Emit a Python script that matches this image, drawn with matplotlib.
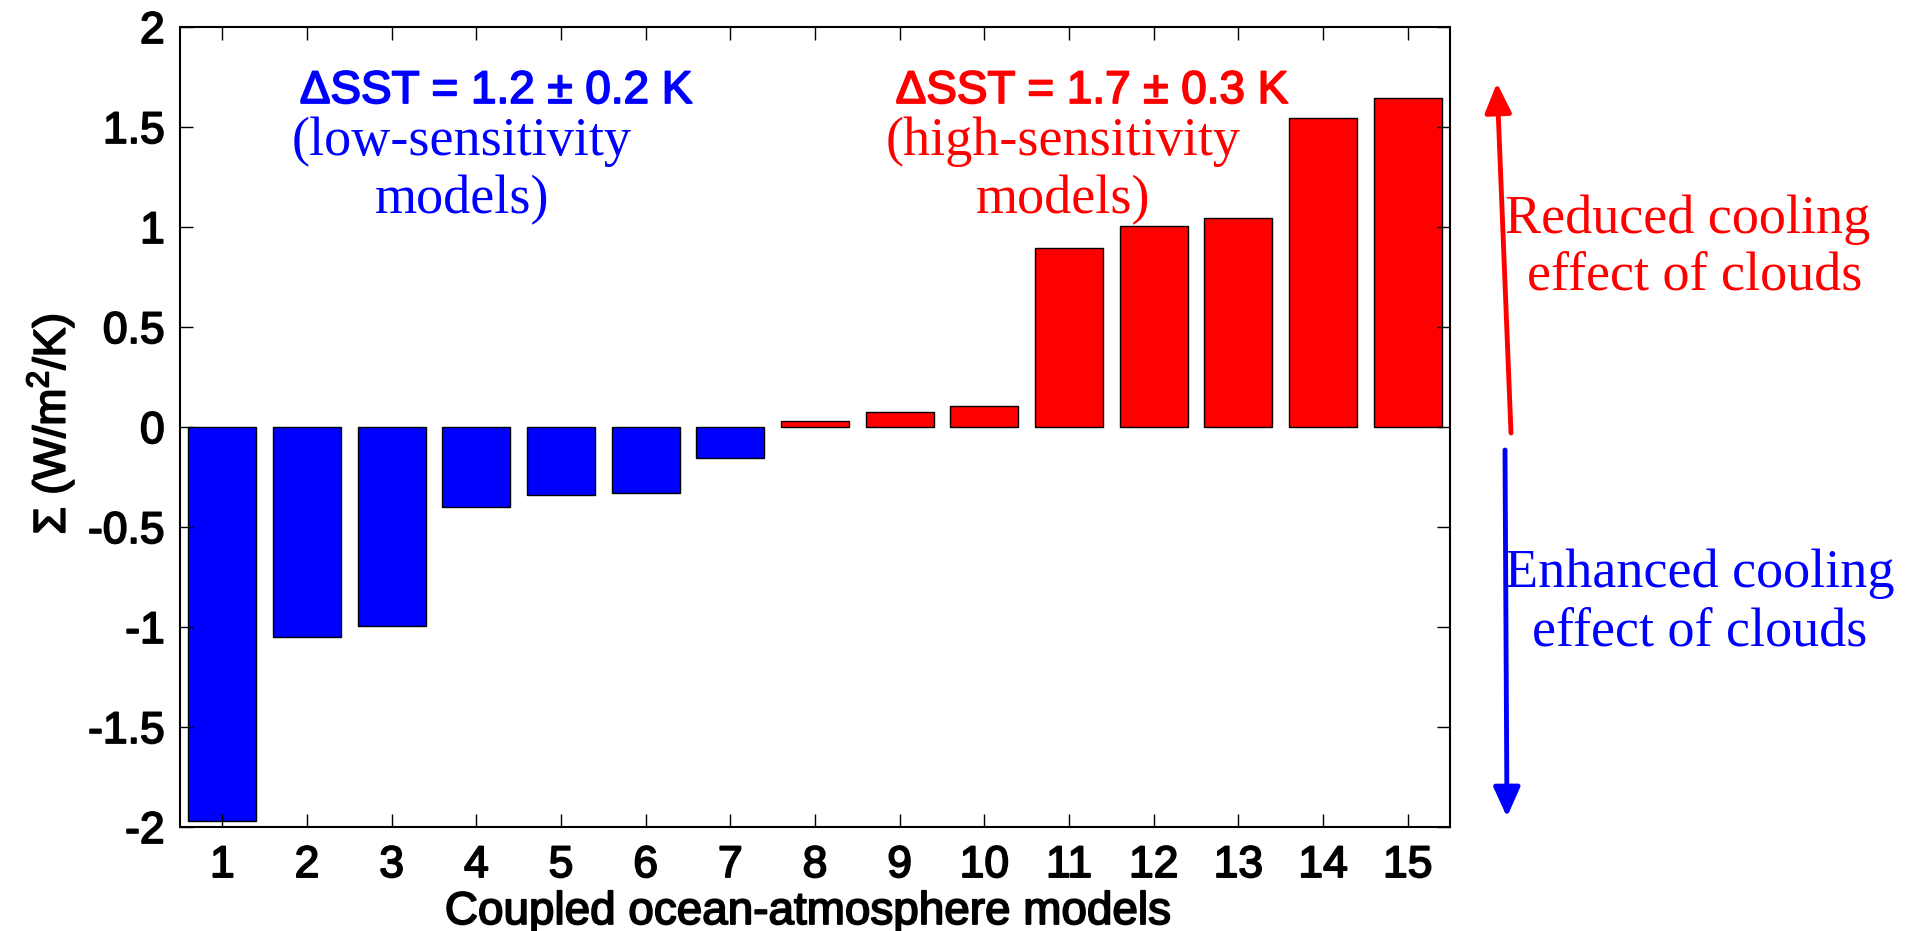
import matplotlib
matplotlib.use('Agg')
import matplotlib.pyplot as plt
import matplotlib.patheffects as pe
from matplotlib.patches import FancyArrowPatch

# data
models = list(range(1, 16))
sigma = [-1.97, -1.05, -0.995, -0.40, -0.34, -0.33, -0.155,
         0.028, 0.075, 0.105, 0.895, 1.005, 1.043, 1.547, 1.643]
yticks = [-2, -1.5, -1, -0.5, 0, 0.5, 1, 1.5, 2]
ytick_labels = ['-2', '-1.5', '-1', '-0.5', '0', '0.5', '1', '1.5', '2']

low_title = 'ΔSST = 1.2 ± 0.2 K'
low_lines = ['(low-sensitivity', 'models)']
high_title = 'ΔSST = 1.7 ± 0.3 K'
high_lines = ['(high-sensitivity', 'models)']
up_lines = ['Reduced cooling', 'effect of clouds']
down_lines = ['Enhanced cooling', 'effect of clouds']

plt.rcParams['font.family'] = ['Liberation Sans', 'DejaVu Sans']
plt.rcParams['mathtext.fontset'] = 'custom'
plt.rcParams['mathtext.rm'] = 'Liberation Sans'
plt.rcParams['mathtext.it'] = 'Liberation Sans:italic'

W, H = 1910, 931
fig = plt.figure(figsize=(W / 100, H / 100), dpi=100)
ax = fig.add_axes([180 / W, 1 - 827 / H, 1270 / W, 800 / H])

def fx(x):
    return x / W

def fy(y):
    return 1 - y / H

def heavy(color):
    # the reference sans text is a bit heavier than Liberation Sans regular
    return [pe.withStroke(linewidth=1.3, foreground=color)]

colors = ['blue' if v < 0 else 'red' for v in sigma]
ax.bar(models, sigma, width=0.8, color=colors, edgecolor='black', linewidth=1)

ax.set_xlim(0.5, 15.5)
ax.set_ylim(-2, 2)
ax.set_xticks(models)
ax.set_xticklabels([str(m) for m in models])
ax.set_yticks(yticks)
ax.set_yticklabels(ytick_labels)
ax.tick_params(axis='both', direction='in', length=9.5, width=1, labelsize=32,
               top=True, right=True)
ax.tick_params(axis='x', pad=13)
ax.tick_params(axis='y', pad=11)
for lab in ax.get_xticklabels() + ax.get_yticklabels():
    lab.set_path_effects(heavy('black'))
for s in ax.spines.values():
    s.set_linewidth(1.5)

ax.set_xlabel('Coupled ocean-atmosphere models', fontsize=33, path_effects=heavy('black'))
ax.xaxis.label.set_va('baseline')
ax.xaxis.set_label_coords((808 - 180) / 1270, (827 - 924) / 800)
ax.set_ylabel('Σ (W/m$^{2}$/K)', fontsize=32, path_effects=heavy('black'))
ax.yaxis.label.set_va('center')
ax.yaxis.set_label_coords((50 - 180) / 1270, (827 - 424) / 800)

serif = 'Liberation Serif'
fig.text(fx(496), fy(103), low_title, color='blue', fontsize=33, ha='center', va='baseline',
         path_effects=heavy('blue'))
fig.text(fx(462), fy(155), low_lines[0], color='blue', fontsize=39, family=serif, ha='center', va='baseline')
fig.text(fx(462), fy(213), low_lines[1], color='blue', fontsize=39, family=serif, ha='center', va='baseline')
fig.text(fx(1092), fy(103), high_title, color='red', fontsize=33, ha='center', va='baseline',
         path_effects=heavy('red'))
fig.text(fx(1063), fy(155), high_lines[0], color='red', fontsize=39, family=serif, ha='center', va='baseline')
fig.text(fx(1063), fy(213), high_lines[1], color='red', fontsize=39, family=serif, ha='center', va='baseline')
fig.text(fx(1688), fy(233), up_lines[0], color='red', fontsize=39, family=serif, ha='center', va='baseline')
fig.text(fx(1695), fy(290), up_lines[1], color='red', fontsize=39, family=serif, ha='center', va='baseline')
fig.text(fx(1700), fy(587), down_lines[0], color='blue', fontsize=39, family=serif, ha='center', va='baseline')
fig.text(fx(1700), fy(645), down_lines[1], color='blue', fontsize=39, family=serif, ha='center', va='baseline')

# arrows outside the axes
up = FancyArrowPatch((fx(1511), fy(433)), (fx(1497), fy(83)), transform=fig.transFigure,
                     arrowstyle='-|>,head_length=1.0,head_width=0.45', mutation_scale=18,
                     color='red', linewidth=3.5, shrinkA=0, shrinkB=0)
down = FancyArrowPatch((fx(1505), fy(450)), (fx(1507), fy(817)), transform=fig.transFigure,
                       arrowstyle='-|>,head_length=1.0,head_width=0.45', mutation_scale=18,
                       color='blue', linewidth=3.5, shrinkA=0, shrinkB=0)
fig.add_artist(up)
fig.add_artist(down)

fig.savefig('out.png', dpi=100)
